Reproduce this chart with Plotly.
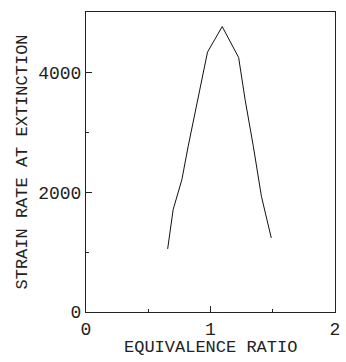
import plotly.graph_objects as go

phi = [0.656, 0.70, 0.77, 0.82, 0.976, 1.094, 1.226, 1.278, 1.344, 1.409, 1.488]
strain = [1054, 1710, 2210, 2760, 4340, 4767, 4250, 3545, 2766, 1932, 1238]

x_ticks = [0, 1, 2]
y_ticks = [0, 2000, 4000]

FONT = "Liberation Mono"

fig = go.Figure()
fig.add_trace(go.Scatter(x=phi, y=strain, mode="lines",
                         line=dict(color="#111", width=1), showlegend=False))

axis_common = dict(showgrid=False, zeroline=False, showline=True, linecolor="#222",
                   linewidth=1, mirror=True, ticks="inside", ticklen=6, tickcolor="#222",
                   tickfont=dict(family=FONT, size=18, color="#222"))

fig.update_xaxes(range=[0, 2], tickvals=x_ticks, ticktext=[str(v) for v in x_ticks],
                 minor=dict(ticks="inside", ticklen=3, tickvals=[0.5, 1.5], tickcolor="#222"),
                 **axis_common)
fig.update_yaxes(range=[0, 5010], tickvals=y_ticks, ticktext=[str(v) for v in y_ticks],
                 minor=dict(ticks="inside", ticklen=3, tickvals=[1000, 3000], tickcolor="#222"),
                 **axis_common)

fig.add_annotation(text="EQUIVALENCE RATIO", xref="paper", yref="paper",
                   x=0.5, y=-0.118, xanchor="center", yanchor="middle", showarrow=False,
                   font=dict(family=FONT, size=17, color="#222"))
fig.add_annotation(text="STRAIN RATE AT EXTINCTION", xref="paper", yref="paper",
                   x=-0.259, y=0.5, xanchor="center", yanchor="middle", showarrow=False,
                   textangle=-90, font=dict(family=FONT, size=17, color="#222"))

fig.update_layout(width=346, height=362, margin=dict(l=86, r=5.5, t=12, b=49.5),
                  plot_bgcolor="white", paper_bgcolor="white")

fig.write_html("out.html", config={"displayModeBar": False},
               post_script="document.body.style.margin='0';")
